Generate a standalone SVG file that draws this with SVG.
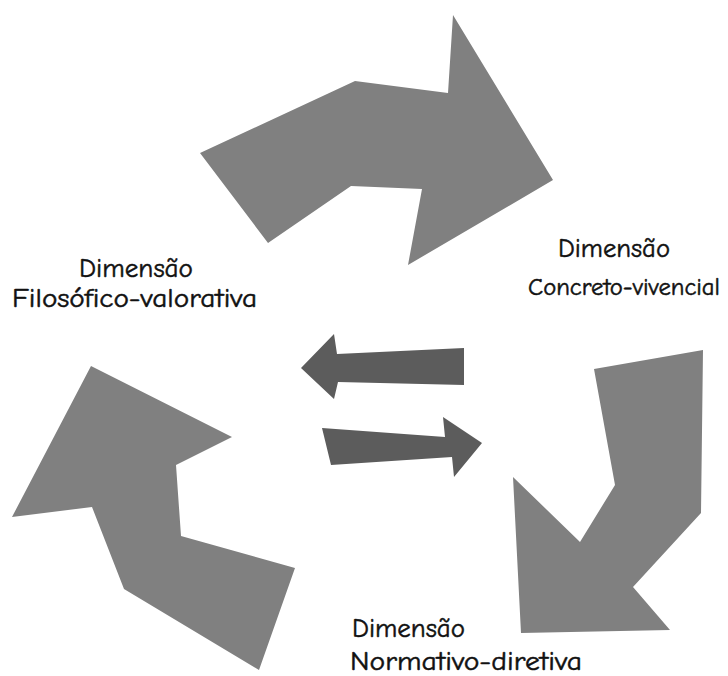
<svg xmlns="http://www.w3.org/2000/svg" width="728" height="676" viewBox="0 0 728 676">
<style>
.big{fill:#808080}
.small{fill:#5c5c5c}
text{font-family:"Comic Neue","DejaVu Sans","Liberation Sans",sans-serif;font-size:27px;fill:#111;stroke:#111;stroke-width:0.5}
</style>
<rect width="728" height="676" fill="#fff"/>
<g id="arrow-top"><polygon class="big" points="200,153 355,81 448,93 453,15 553,180 408,265 422,189 351,186 268,243"/></g>
<g id="arrow-right"><polygon class="big" points="594,369 703,350 701,513 633,587 670,630 521,633 513,477 580,542 615,485"/></g>
<g id="arrow-left"><polygon class="big" points="91,366 232,437 176,465 181,536 295,568 259,670 124,589 92,507 12,517"/></g>
<g id="connectors">
<polygon class="small" points="301,368 334,334 337,354 464,348 464,385 338,382 334,399"/>
<polygon class="small" points="322,428 445,437 443,417 482,443 454,477 452,457 331,465"/>
</g>
<g id="label-filosofico">
<text x="79" y="277" textLength="114" lengthAdjust="spacingAndGlyphs">Dimensão</text>
<text x="12" y="307" textLength="245" lengthAdjust="spacingAndGlyphs">Filosófico-valorativa</text>
</g>
<g id="label-concreto">
<text x="558" y="257" textLength="112" lengthAdjust="spacingAndGlyphs">Dimensão</text>
<text x="528" y="295" style="font-size:24px" textLength="192" lengthAdjust="spacingAndGlyphs">Concreto-vivencial</text>
</g>
<g id="label-normativo">
<text x="352" y="637" textLength="113" lengthAdjust="spacingAndGlyphs">Dimensão</text>
<text x="350" y="670" textLength="232" lengthAdjust="spacingAndGlyphs">Normativo-diretiva</text>
</g>
</svg>
